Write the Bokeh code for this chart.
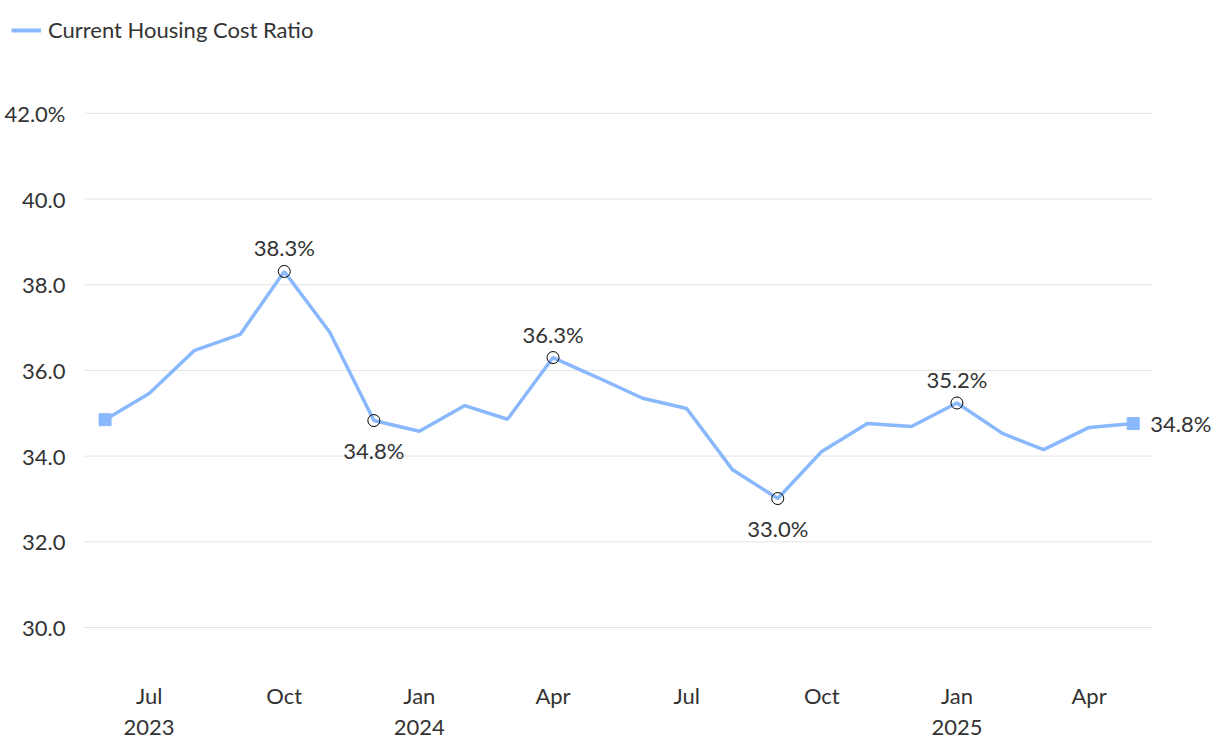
import pandas as pd
from bokeh.plotting import figure
from bokeh.layouts import column, row
from bokeh.models import (ColumnDataSource, Range1d, FixedTicker, CustomJSTickFormatter,
                          Legend, LegendItem)
from bokeh.core.properties import value
from bokeh.embed import file_html
from bokeh.resources import INLINE

# ---- data ----
months = ["2023-06", "2023-07", "2023-08", "2023-09", "2023-10", "2023-11", "2023-12",
          "2024-01", "2024-02", "2024-03", "2024-04", "2024-05", "2024-06", "2024-07",
          "2024-08", "2024-09", "2024-10", "2024-11", "2024-12", "2025-01", "2025-02",
          "2025-03", "2025-04", "2025-05"]
ratio = [34.85, 35.46, 36.47, 36.84, 38.31, 36.89, 34.83, 34.58, 35.18, 34.86, 36.30,
         35.84, 35.35, 35.11, 33.69, 33.01, 34.11, 34.76, 34.69, 35.24, 34.53, 34.15,
         34.67, 34.76]
series_name = "Current Housing Cost Ratio"
tick_months = ["2023-07", "2023-10", "2024-01", "2024-04", "2024-07", "2024-10",
               "2025-01", "2025-04"]
y_ticks = [30, 32, 34, 36, 38, 40, 42]
# annotated points: month, label, placement
peaks = [("2023-10", "38.3%", "above"), ("2023-12", "34.8%", "below"),
         ("2024-04", "36.3%", "above"), ("2024-09", "33.0%", "below"),
         ("2025-01", "35.2%", "above")]
end_label = "34.8%"

FONT = "Lato"
FS = "22px"
LINE_COLOR = "#8ab8fc"
TEXT_COLOR = "#333333"
GRID_COLOR = "#e3e3e3"
X_START, X_GRID_END, X_END = "2023-05-18", "2025-05-14", "2025-06-24"

dates = pd.to_datetime([m + "-01" for m in months])
src = ColumnDataSource(dict(x=dates, y=ratio))

# ---- main chart ----
p = figure(frame_width=1128, frame_height=602, output_backend="svg", toolbar_location=None,
           x_axis_type="datetime",
           x_range=Range1d(pd.Timestamp(X_START), pd.Timestamp(X_END)),
           y_range=Range1d(28.95, 43.0),
           min_border_left=84, min_border_right=0, min_border_top=20, min_border_bottom=0)
p.outline_line_color = None
p.background_fill_color = "white"
p.xgrid.grid_line_color = None
p.ygrid.grid_line_color = None

# horizontal grid lines (end short of the right-hand label)
p.segment(x0=[pd.Timestamp(X_START)] * len(y_ticks), y0=y_ticks,
          x1=[pd.Timestamp(X_GRID_END)] * len(y_ticks), y1=y_ticks,
          line_color=GRID_COLOR, line_width=1)

line = p.line("x", "y", source=src, line_color=LINE_COLOR, line_width=3.5)

# end squares
ends = ColumnDataSource(dict(x=[dates[0], dates[-1]], y=[ratio[0], ratio[-1]]))
p.scatter("x", "y", source=ends, marker="square", size=12, fill_color=LINE_COLOR,
          line_color=LINE_COLOR)

# annotated circles
pk_dates = [pd.Timestamp(m + "-01") for m, _, _ in peaks]
pk_vals = [ratio[months.index(m)] for m, _, _ in peaks]
p.scatter(pk_dates, pk_vals, marker="circle", size=12, fill_color=None,
          line_color="black", line_width=1)

above = [(d, v, l) for (d, v, (m, l, pl)) in zip(pk_dates, pk_vals, peaks) if pl == "above"]
below = [(d, v, l) for (d, v, (m, l, pl)) in zip(pk_dates, pk_vals, peaks) if pl == "below"]
p.text([a[0] for a in above], [a[1] for a in above], text=[a[2] for a in above],
       text_align="center", text_baseline="bottom", y_offset=-10,
       text_font=value(FONT), text_font_size=FS, text_color=TEXT_COLOR)
p.text([a[0] for a in below], [a[1] for a in below], text=[a[2] for a in below],
       text_align="center", text_baseline="top", y_offset=16,
       text_font=value(FONT), text_font_size=FS, text_color=TEXT_COLOR)
p.text([dates[-1]], [ratio[-1]], text=[end_label], text_align="left",
       text_baseline="middle", x_offset=17,
       text_font=value(FONT), text_font_size=FS, text_color=TEXT_COLOR)

# axes
tick_ms = [pd.Timestamp(m + "-01").value // 10**6 for m in tick_months]
p.xaxis.ticker = FixedTicker(ticks=tick_ms)
p.xaxis.formatter = CustomJSTickFormatter(code="""
const d = new Date(tick);
const names = ['Jan','Feb','Mar','Apr','May','Jun','Jul','Aug','Sep','Oct','Nov','Dec'];
const m = d.getUTCMonth();
const y = d.getUTCFullYear();
if (m === 0 || index === 0) { return names[m] + '\\n' + y; }
return names[m];
""")
p.yaxis.ticker = FixedTicker(ticks=y_ticks)
p.yaxis.formatter = CustomJSTickFormatter(code="""
return tick === 42 ? tick.toFixed(1) + '%' : tick.toFixed(1);
""")
for ax in (p.xaxis, p.yaxis):
    ax.axis_line_color = None
    ax.major_tick_line_color = None
    ax.minor_tick_line_color = None
    ax.major_label_text_font = FONT
    ax.major_label_text_font_size = FS
    ax.major_label_text_color = TEXT_COLOR
p.yaxis.major_label_standoff = 13
p.xaxis.major_label_standoff = 3
p.xaxis.major_label_text_line_height = 1.15

# ---- legend strip ----
lg = figure(width=1212, height=50, output_backend="svg", toolbar_location=None,
            x_range=Range1d(0, 1), y_range=Range1d(0, 1),
            x_axis_location=None, y_axis_location=None,
            min_border_left=0, min_border_right=0, min_border_top=0, min_border_bottom=0)
lg.grid.visible = False
lg.outline_line_color = None
nan = float("nan")
lg_line = lg.line(x=[nan], y=[nan], line_color=LINE_COLOR, line_width=4)
legend = Legend(items=[LegendItem(label=series_name, renderers=[lg_line])],
                location=(11, 7), orientation="horizontal",
                glyph_width=30, glyph_height=20, label_standoff=7, padding=0, margin=0,
                border_line_alpha=0, background_fill_alpha=0,
                label_text_font=FONT, label_text_font_size=FS,
                label_text_color=TEXT_COLOR)
lg.add_layout(legend, "center")

layout = column(row(lg), p, spacing=0)
open("out.html", "w").write(file_html(layout, INLINE))
